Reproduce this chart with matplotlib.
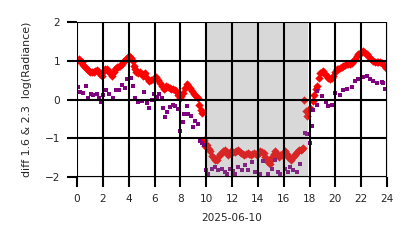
import numpy as np
import matplotlib
matplotlib.use('agg')
import matplotlib.pyplot as plt  # noqa

# hours of the day and diff values
red_hours = [0.0, 0.13, 0.25, 0.38, 0.5, 0.64, 0.77, 0.9, 1.03, 1.15, 1.28, 1.4,
             1.53, 1.67, 1.8, 1.9, 2.05, 2.2, 2.3, 2.4, 2.55, 2.7, 2.83, 2.95,
             3.08, 3.2, 3.33, 3.46, 3.58, 3.7, 3.85, 4.0, 4.1, 4.2, 4.3, 4.4,
             4.5, 4.6, 4.73, 4.87, 5.0, 5.1, 5.2, 5.3, 5.45, 5.6, 5.75, 5.9,
             6.02, 6.15, 6.28, 6.4, 6.55, 6.7, 6.8, 6.9, 7.05, 7.2, 7.3, 7.4,
             7.55, 7.7, 7.82, 7.95, 8.08, 8.2, 8.35, 8.5, 8.62, 8.75, 8.9, 9.05,
             9.2, 9.35, 9.48, 9.6, 9.68, 9.83, 9.92, 10.07, 10.2, 10.3, 10.45,
             10.6, 10.7, 10.8, 10.95, 11.1, 11.2, 11.32, 11.45, 11.58, 11.7,
             11.82, 11.95, 12.08, 12.2, 12.32, 12.45, 12.58, 12.7, 12.82, 12.95,
             13.08, 13.2, 13.32, 13.45, 13.58, 13.7, 13.82, 13.95, 14.08, 14.2,
             14.32, 14.45, 14.58, 14.7, 14.8, 14.9, 15.0, 15.1, 15.22, 15.35,
             15.48, 15.6, 15.72, 15.85, 15.98, 16.1, 16.22, 16.35, 16.48, 16.6,
             16.72, 16.85, 16.98, 17.1, 17.22, 17.35, 17.45, 17.5, 17.57, 17.72,
             17.83, 18.03, 18.24, 18.38, 18.5, 18.6, 18.7, 18.8, 18.95, 19.07,
             19.2, 19.33, 19.45, 19.58, 19.72, 19.84, 19.97, 20.1, 20.23, 20.36,
             20.48, 20.6, 20.74, 20.87, 21.0, 21.12, 21.26, 21.4, 21.52, 21.65,
             21.78, 21.9, 22.03, 22.16, 22.3, 22.42, 22.55, 22.68, 22.8, 22.93,
             23.06, 23.19, 23.32, 23.45, 23.58, 23.71, 23.84, 23.95]
red_vals = [1.0, 1.04, 1.0, 0.96, 0.9, 0.83, 0.78, 0.74, 0.7, 0.7, 0.72, 0.74,
            0.76, 0.7, 0.66, 0.6, 0.7, 0.78, 0.8, 0.74, 0.68, 0.6, 0.72, 0.8,
            0.83, 0.83, 0.86, 0.91, 0.97, 1.03, 1.08, 1.12, 1.1, 1.08, 1.0, 0.87,
            0.78, 0.7, 0.68, 0.7, 0.66, 0.6, 0.65, 0.68, 0.56, 0.48, 0.5, 0.53,
            0.56, 0.57, 0.5, 0.43, 0.35, 0.26, 0.3, 0.35, 0.33, 0.3, 0.28, 0.26,
            0.24, 0.22, 0.12, 0.04, 0.1, 0.17, 0.3, 0.39, 0.35, 0.3, 0.22, 0.14,
            0.08, 0.04, -0.15, -0.28, -0.35, -1.04, -1.2, -1.16, -1.28, -1.34, -1.45,
            -1.51, -1.55, -1.56, -1.48, -1.4, -1.38, -1.32, -1.29, -1.36, -1.42,
            -1.38, -1.34, -1.35, -1.36, -1.33, -1.31, -1.35, -1.38, -1.4, -1.42,
            -1.4, -1.38, -1.4, -1.42, -1.4, -1.38, -1.4, -1.42, -1.38, -1.34,
            -1.36, -1.38, -1.47, -1.56, -1.6, -1.65, -1.56, -1.47, -1.4, -1.34,
            -1.4, -1.47, -1.44, -1.42, -1.38, -1.34, -1.4, -1.47, -1.52, -1.56,
            -1.49, -1.42, -1.38, -1.34, -1.31, -1.29, -1.27, -1.25, 0.0, -0.3,
            -0.43, -0.22, -0.04, 0.12, 0.26, 0.35, 0.55, 0.69, 0.72, 0.74,
            0.66, 0.6, 0.55, 0.52, 0.55, 0.6, 0.7, 0.78, 0.8, 0.82,
            0.84, 0.86, 0.89, 0.91, 0.91, 0.91, 0.95, 0.99, 1.05, 1.12,
            1.18, 1.21, 1.24, 1.25, 1.21, 1.17, 1.12, 1.08, 1.03, 0.99,
            0.98, 0.97, 0.96, 0.96, 0.95, 0.92, 0.86, 0.82]

purple_hours = [0.05, 0.23, 0.49, 0.7, 0.88, 1.06, 1.26, 1.52, 1.73, 1.86, 2.04,
                2.25, 2.48, 2.81, 2.99, 3.28, 3.48, 3.72, 3.85, 4.18, 4.36, 4.49,
                4.75, 5.0, 5.21, 5.39, 5.57, 5.78, 5.96, 6.17, 6.35, 6.55, 6.63,
                6.81, 6.94, 7.2, 7.4, 7.59, 7.79, 7.97, 8.18, 8.31, 8.49, 8.56,
                8.8, 8.95, 9.13, 9.39, 9.52, 9.65, 9.8, 9.98, 10.16, 10.42, 10.67,
                10.93, 11.19, 11.45, 11.63, 11.84, 12.05, 12.23, 12.49, 12.74,
                13.0, 13.26, 13.52, 13.77, 14.16, 14.42, 14.8, 15.06, 15.32,
                15.58, 15.71, 16.1, 16.35, 16.48, 16.74, 17.0, 17.25, 17.65,
                17.8, 18.03, 18.16, 18.3, 18.55, 18.6, 18.94, 19.27, 19.45, 19.7,
                19.97, 20.35, 20.6, 20.87, 21.26, 21.5, 21.77, 22.16, 22.42,
                22.68, 22.94, 23.25, 23.58, 23.7, 23.85]
purple_vals = [0.33, 0.2, 0.18, 0.34, 0.05, 0.14, 0.12, 0.14, 0.05, -0.07, 0.12,
               0.25, 0.15, 0.03, 0.24, 0.24, 0.38, 0.3, 0.54, 0.55, 0.36, 0.05,
               -0.05, -0.03, 0.2, -0.1, -0.22, 0.0, 0.15, 0.07, 0.15, 0.05, -0.22,
               -0.44, -0.33, -0.18, -0.15, -0.17, -0.24, -0.8, -0.57, -0.36, -0.17,
               -0.37, -0.42, -0.7, -0.55, -0.62, -1.06, -1.12, -1.16, -1.82, -1.91,
               -1.78, -1.75, -1.82, -1.78, -1.87, -1.91, -1.78, -1.84, -1.91,
               -1.75, -1.82, -1.69, -1.82, -1.6, -1.87, -1.91, -1.58, -1.91,
               -1.78, -1.56, -1.87, -1.91, -1.78, -1.87, -1.73, -1.82, -1.87,
               -1.65, -0.86, -0.9, -1.12, -0.69, -0.26, -0.13, 0.22, 0.09, -0.07,
               -0.17, -0.15, 0.16, 0.13, 0.24, 0.26, 0.33, 0.48, 0.52, 0.59, 0.62,
               0.52, 0.48, 0.42, 0.45, 0.42, 0.26]

night_start, night_end = 9.95, 17.85
x_ticks = np.arange(0, 25, 2)
y_ticks = [-2, -1, 0, 1, 2]

fig = plt.figure(figsize=(4.14, 2.48), dpi=100)
ax = fig.add_axes([0.186, 0.286, 0.749, 0.625])

ax.scatter(red_hours, red_vals, marker='D', s=18, color='red', linewidths=0, zorder=1)
ax.scatter(purple_hours, purple_vals, marker='s', s=10, color='purple', linewidths=0, zorder=1)
ax.axvspan(night_start, night_end, color='gray', alpha=0.3, linewidth=0, zorder=2)

ax.set_xlim(0, 24)
ax.set_ylim(-2, 2)
ax.set_xticks(x_ticks)
ax.set_yticks(y_ticks)
ax.set_axisbelow(False)
ax.grid(True, color='black', linewidth=1.5)
ax.tick_params(length=7, width=1.5, color='black', labelsize=7.6,
               labelcolor='#262626', pad=5)
for s in ax.spines.values():
    s.set_color('#dddddd')
    s.set_linewidth(0.8)

ax.set_xlabel('2025-06-10', fontsize=7.6, color='#262626', labelpad=7)
ax.set_ylabel('diff 1.6 & 2.3  log(Radiance)', fontsize=7.9, color='#262626',
              labelpad=9)

fig.savefig('out.png', dpi=100)
